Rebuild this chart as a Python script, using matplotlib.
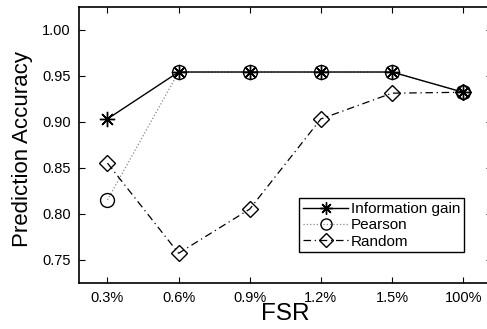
import matplotlib.pyplot as plt

plt.rcParams["font.family"] = ["Liberation Sans", "DejaVu Sans"]

fsr_labels = ["0.3%", "0.6%", "0.9%", "1.2%", "1.5%", "100%"]
info_gain = [0.903, 0.954, 0.954, 0.954, 0.954, 0.932]
pearson = [0.815, 0.954, 0.954, 0.954, 0.954, 0.932]
random_sel = [0.855, 0.757, 0.805, 0.903, 0.931, 0.932]

x = list(range(1, len(fsr_labels) + 1))

fig = plt.figure(figsize=(4.87, 3.29), dpi=100)
ax = fig.add_axes([79 / 487, 1 - 282.7 / 329, 412.6 / 487, 276 / 329])

asterisk = (8, 2, 0)
ax.plot(x, pearson, linestyle=":", color="#888888", linewidth=0.9,
        marker="o", markersize=10, markerfacecolor="none",
        markeredgecolor="black", markeredgewidth=1.0, label="Pearson", zorder=2)
ax.plot(x, random_sel, linestyle="-.", color="black", linewidth=0.9,
        dashes=(6, 3, 1, 3),
        marker="D", markersize=8.5, markerfacecolor="none",
        markeredgecolor="black", markeredgewidth=1.0, label="Random", zorder=3)
ax.plot(x, info_gain, linestyle="-", color="black", linewidth=1.0,
        marker=asterisk, markersize=11, markeredgewidth=1.0,
        markeredgecolor="black", label="Information gain", zorder=4)

ax.set_xlim(0.6, 6.4)
ax.set_ylim(0.725, 1.025)
ax.set_xticks(x)
ax.set_xticklabels(fsr_labels)
ax.set_yticks([0.75, 0.80, 0.85, 0.90, 0.95, 1.00])
ax.set_yticklabels(["0.75", "0.80", "0.85", "0.90", "0.95", "1.00"])
ax.tick_params(direction="in", length=4, width=0.8, labelsize=10.5,
               top=True, right=True, pad=6)
for s in ax.spines.values():
    s.set_linewidth(1.2)

ax.set_xlabel("FSR", fontsize=17.5, va="top")
ax.xaxis.set_label_coords(0.5, -0.0725)
ax.set_ylabel("Prediction Accuracy", fontsize=16, va="bottom")
ax.yaxis.set_label_coords(-0.1115, 0.484)

handles, labels = ax.get_legend_handles_labels()
order = [2, 0, 1]
leg = ax.legend([handles[i] for i in order], [labels[i] for i in order],
                loc="upper right", bbox_to_anchor=(0.933, 0.306),
                borderaxespad=0, fontsize=11, frameon=True, fancybox=False,
                handlelength=3.0, handletextpad=0.15, labelspacing=0.15,
                borderpad=0.25, framealpha=1, markerscale=0.8)
leg.get_frame().set_edgecolor("black")
leg.get_frame().set_linewidth(1.0)

fig.savefig("out.png", dpi=100, facecolor="white")
